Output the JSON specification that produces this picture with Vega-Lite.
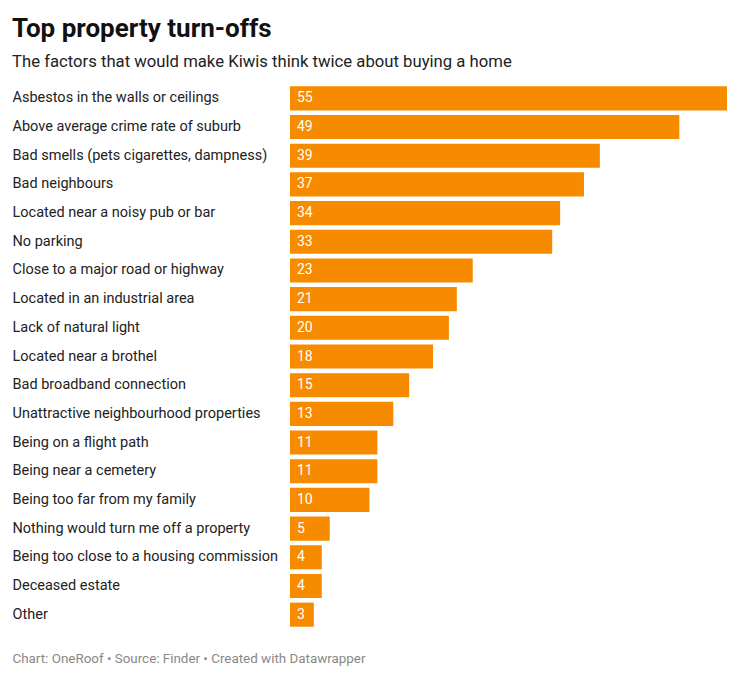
{
  "$schema": "https://vega.github.io/schema/vega-lite/v6.json",
  "autosize": "none",
  "padding": {"left": 290, "top": 84, "right": 13, "bottom": 50},
  "width": 437,
  "height": 545,
  "background": "white",
  "config": {"view": {"stroke": null}, "font": "Roboto"},
  "title": {
    "text": "Top property turn-offs",
    "subtitle": "The factors that would make Kiwis think twice about buying a home",
    "anchor": "start",
    "font": "Roboto",
    "fontSize": 26,
    "fontWeight": "bold",
    "color": "#111",
    "subtitleFont": "Roboto",
    "subtitleFontSize": 16.7,
    "subtitleColor": "#222",
    "subtitlePadding": 12,
    "offset": 13
  },
  "data": {
    "values": [
      {"factor": "Asbestos in the walls or ceilings", "value": 55},
      {"factor": "Above average crime rate of suburb", "value": 49},
      {"factor": "Bad smells (pets cigarettes, dampness)", "value": 39},
      {"factor": "Bad neighbours", "value": 37},
      {"factor": "Located near a noisy pub or bar", "value": 34},
      {"factor": "No parking", "value": 33},
      {"factor": "Close to a major road or highway", "value": 23},
      {"factor": "Located in an industrial area", "value": 21},
      {"factor": "Lack of natural light", "value": 20},
      {"factor": "Located near a brothel", "value": 18},
      {"factor": "Bad broadband connection", "value": 15},
      {"factor": "Unattractive neighbourhood properties", "value": 13},
      {"factor": "Being on a flight path", "value": 11},
      {"factor": "Being near a cemetery", "value": 11},
      {"factor": "Being too far from my family", "value": 10},
      {"factor": "Nothing would turn me off a property", "value": 5},
      {"factor": "Being too close to a housing commission", "value": 4},
      {"factor": "Deceased estate", "value": 4},
      {"factor": "Other", "value": 3}
    ]
  },
  "encoding": {
    "y": {
      "field": "factor",
      "type": "nominal",
      "sort": null,
      "scale": {"paddingInner": 0.16, "paddingOuter": 0.08},
      "axis": {
        "title": null,
        "domain": false,
        "ticks": false,
        "labelAlign": "left",
        "labelPadding": 278,
        "labelFontSize": 14.5,
        "labelColor": "#222",
        "labelFont": "Roboto",
        "labelLimit": 280
      }
    }
  },
  "layer": [
    {
      "mark": {"type": "bar", "color": "#f78b00"},
      "encoding": {
        "x": {
          "field": "value",
          "type": "quantitative",
          "scale": {"domain": [0, 55], "nice": false},
          "axis": {
            "grid": false,
            "labels": false,
            "ticks": false,
            "domain": false,
            "title": "Chart: OneRoof • Source: Finder • Created with Datawrapper",
            "titleX": -278,
            "titleY": 33,
            "titleAlign": "left",
            "titleAnchor": "start",
            "titleBaseline": "alphabetic",
            "titleFontWeight": "normal",
            "titleFontSize": 13.4,
            "titleColor": "#888",
            "titleFont": "Roboto"
          }
        }
      }
    },
    {
      "mark": {"type": "text", "align": "left", "dx": 7, "color": "white", "fontSize": 14, "font": "Roboto"},
      "encoding": {
        "x": {"datum": 0, "type": "quantitative"},
        "text": {"field": "value", "type": "quantitative"}
      }
    }
  ]
}
